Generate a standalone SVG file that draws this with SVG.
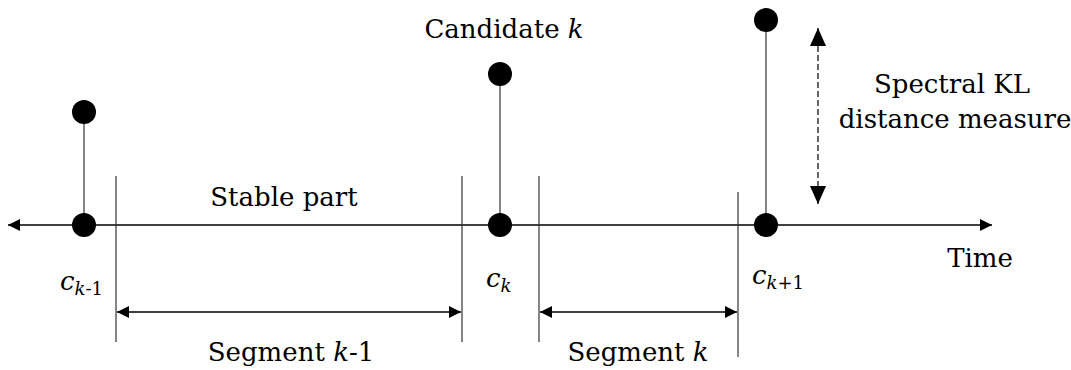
<svg xmlns="http://www.w3.org/2000/svg" width="1071" height="370" viewBox="0 0 1071 370">
<style>
text{font-family:'DejaVu Serif',serif;font-size:26px;fill:#000}
.mid{text-anchor:middle}
.it{font-style:italic}
.sub{font-size:18px}
.thin{stroke:#333;stroke-width:1.2;fill:none}
.axis{stroke:#000;stroke-width:1.4;fill:none}
.dot{fill:#000}
</style>
<defs>
<marker id="ah" viewBox="0 0 12 12" refX="12" refY="6" markerWidth="12" markerHeight="12" markerUnits="userSpaceOnUse" orient="auto-start-reverse">
<path d="M0,0 L12,6 L0,12 Z" fill="#000"/>
</marker>
<marker id="ahb" viewBox="0 0 18 16" refX="18" refY="8" markerWidth="18" markerHeight="16" markerUnits="userSpaceOnUse" orient="auto-start-reverse">
<path d="M0,0 L18,8 L0,16 Z" fill="#000"/>
</marker>
</defs>
<g id="connectors">
<line class="axis" x1="8" y1="225" x2="992" y2="225" marker-start="url(#ah)" marker-end="url(#ah)"/>
<line class="thin" x1="84" y1="112" x2="84" y2="225"/>
<line class="thin" x1="500" y1="74" x2="500" y2="225"/>
<line class="thin" x1="766" y1="20" x2="766" y2="225"/>
<line class="thin" x1="116" y1="176" x2="116" y2="342"/>
<line class="thin" x1="462" y1="176" x2="462" y2="342"/>
<line class="thin" x1="539" y1="176" x2="539" y2="342"/>
<line class="thin" x1="738" y1="192" x2="738" y2="357"/>
<line class="axis" x1="117" y1="312" x2="461" y2="312" marker-start="url(#ah)" marker-end="url(#ah)"/>
<line class="axis" x1="540" y1="312" x2="737" y2="312" marker-start="url(#ah)" marker-end="url(#ah)"/>
<line x1="818" y1="28" x2="818" y2="204" stroke="#000" stroke-width="1.2" stroke-dasharray="6,3" marker-start="url(#ahb)" marker-end="url(#ahb)"/>
</g>
<g id="node-ck-1">
<circle class="dot" cx="84" cy="112" r="12"/>
<circle class="dot" cx="84" cy="225" r="12"/>
<text x="60" y="290"><tspan class="it">c</tspan><tspan class="sub it" dy="5">k</tspan><tspan class="sub">-1</tspan></text>
</g>
<g id="node-ck">
<circle class="dot" cx="500" cy="74" r="12"/>
<circle class="dot" cx="500" cy="225" r="12"/>
<text x="486" y="287"><tspan class="it">c</tspan><tspan class="sub it" dy="5">k</tspan></text>
<text class="mid" x="504" y="38">Candidate <tspan class="it">k</tspan></text>
</g>
<g id="node-ck+1">
<circle class="dot" cx="766" cy="20" r="12"/>
<circle class="dot" cx="766" cy="225" r="12"/>
<text x="752" y="284"><tspan class="it">c</tspan><tspan class="sub it" dy="5">k</tspan><tspan class="sub">+1</tspan></text>
</g>
<g id="labels">
<text class="mid" x="284" y="206">Stable part</text>
<text class="mid" x="952" y="93">Spectral KL</text>
<text class="mid" x="955" y="128">distance measure</text>
<text class="mid" x="980" y="267">Time</text>
<text class="mid" x="291" y="361">Segment <tspan class="it">k</tspan>-1</text>
<text class="mid" x="638" y="361">Segment <tspan class="it">k</tspan></text>
</g>
</svg>
